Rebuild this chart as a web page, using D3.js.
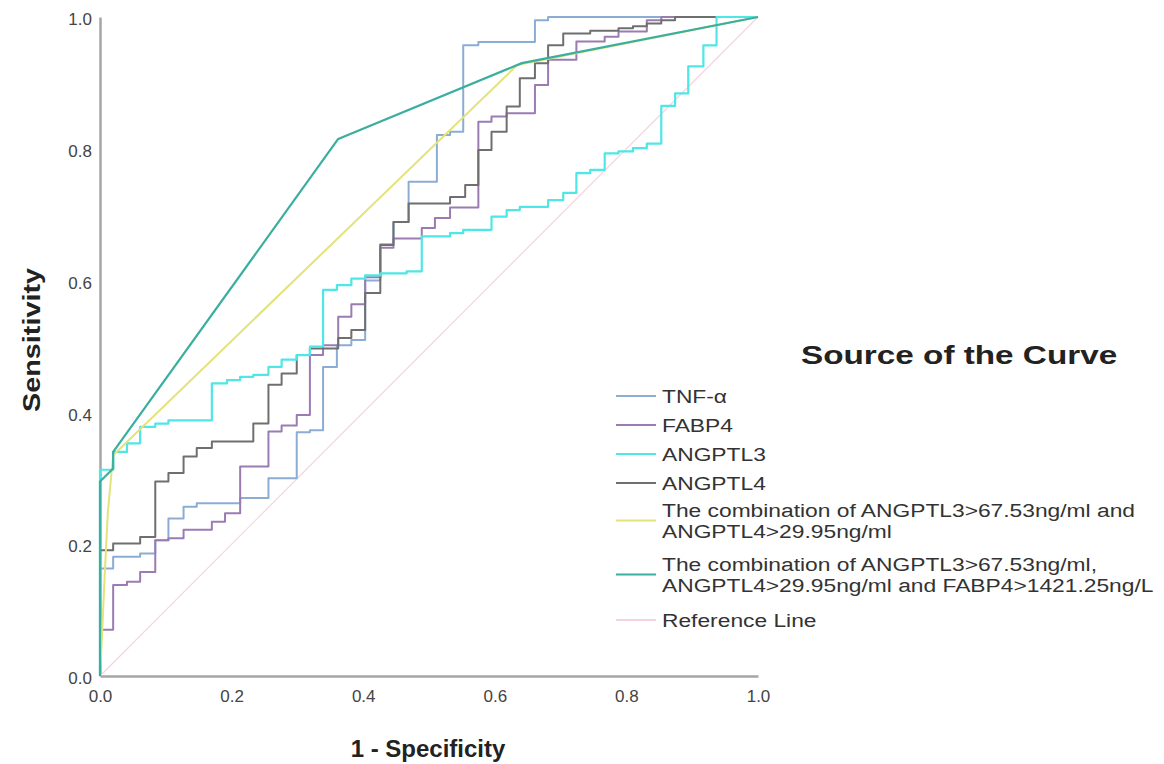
<!DOCTYPE html>
<html>
<head>
<meta charset="utf-8">
<script src="https://cdn.jsdelivr.net/npm/d3@7"></script>
<style>
  body { margin: 0; background: #fff; }
  svg { font-family: Arial, "Liberation Sans", sans-serif; }
</style>
</head>
<body>
<svg id="chart" width="1164" height="764"></svg>
<script>
// ROC curves, step points are [1 - specificity, sensitivity]
const tnfAlpha = [[0, 0], [0, 0.163], [0.020, 0.181], [0.061, 0.186], [0.084, 0.206], [0.104, 0.239],
  [0.127, 0.257], [0.147, 0.262], [0.213, 0.270], [0.256, 0.280], [0.256, 0.300], [0.299, 0.370],
  [0.319, 0.373], [0.339, 0.469], [0.360, 0.502], [0.382, 0.510], [0.403, 0.600], [0.426, 0.655],
  [0.446, 0.689], [0.469, 0.750], [0.512, 0.821], [0.532, 0.826], [0.552, 0.957], [0.575, 0.962],
  [0.661, 0.995], [0.681, 1.0], [1, 1]]

const fabp4 = [[0, 0], [0, 0.070], [0.020, 0.138], [0.041, 0.143], [0.061, 0.158], [0.084, 0.206],
  [0.104, 0.209], [0.127, 0.222], [0.170, 0.234], [0.190, 0.247], [0.213, 0.318], [0.256, 0.371],
  [0.276, 0.380], [0.299, 0.396], [0.319, 0.487], [0.339, 0.502], [0.362, 0.545], [0.382, 0.564],
  [0.403, 0.605], [0.426, 0.650], [0.446, 0.664], [0.489, 0.680], [0.509, 0.695], [0.532, 0.711],
  [0.575, 0.841], [0.595, 0.849], [0.618, 0.854], [0.661, 0.897], [0.681, 0.935], [0.724, 0.963],
  [0.767, 0.970], [0.788, 0.978], [0.831, 0.995], [0.853, 1.0], [1, 1]]

const angptl3 = [[0, 0], [0, 0.313], [0.010, 0.313], [0.020, 0.340], [0.041, 0.353], [0.061, 0.378],
  [0.084, 0.383], [0.104, 0.388], [0.170, 0.444], [0.193, 0.449], [0.213, 0.454], [0.233, 0.457],
  [0.256, 0.469], [0.276, 0.480], [0.299, 0.487], [0.319, 0.500], [0.339, 0.586], [0.360, 0.593],
  [0.382, 0.603], [0.403, 0.608], [0.426, 0.611], [0.466, 0.614], [0.489, 0.667], [0.532, 0.672],
  [0.552, 0.677], [0.595, 0.697], [0.618, 0.707], [0.638, 0.712], [0.681, 0.722], [0.704, 0.733],
  [0.724, 0.763], [0.745, 0.768], [0.767, 0.793], [0.788, 0.796], [0.810, 0.801], [0.831, 0.808],
  [0.853, 0.865], [0.874, 0.884], [0.894, 0.925], [0.917, 0.957], [0.937, 1.0], [1, 1]]

const angptl4 = [[0, 0], [0, 0.191], [0.020, 0.201], [0.061, 0.211], [0.084, 0.295], [0.104, 0.308],
  [0.127, 0.333], [0.147, 0.346], [0.170, 0.356], [0.233, 0.383], [0.256, 0.442], [0.276, 0.459],
  [0.299, 0.487], [0.319, 0.497], [0.362, 0.513], [0.382, 0.525], [0.403, 0.581], [0.426, 0.654],
  [0.446, 0.689], [0.469, 0.717], [0.532, 0.727], [0.555, 0.745], [0.575, 0.798], [0.595, 0.826],
  [0.618, 0.864], [0.638, 0.907], [0.661, 0.930], [0.681, 0.957], [0.704, 0.975], [0.745, 0.979],
  [0.788, 0.983], [0.810, 0.986], [0.831, 0.990], [0.853, 0.995], [0.874, 1.0], [1, 1]]

// combinations are plotted with straight segments
const combo1 = [[0, 0], [0.003, 0.06], [0.007, 0.15], [0.012, 0.25], [0.020, 0.335], [0.634, 0.927], [1, 1]]
const combo2 = [[0, 0], [0, 0.295], [0.020, 0.315], [0.020, 0.340], [0.362, 0.815], [0.641, 0.930], [1, 1]]
const refLine = [[0, 0], [1, 1]]

const tickValues = [0, 0.2, 0.4, 0.6, 0.8, 1.0]

const legendNames = [
  ['TNF-α'],
  ['FABP4'],
  ['ANGPTL3'],
  ['ANGPTL4'],
  ['The combination of ANGPTL3>67.53ng/ml and', 'ANGPTL4>29.95ng/ml'],
  ['The combination of ANGPTL3>67.53ng/ml,', 'ANGPTL4>29.95ng/ml and FABP4>1421.25ng/L'],
  ['Reference Line']
]

const series = [
  { data: tnfAlpha, color: '#8badd3', step: true, width: 2 },
  { data: fabp4, color: '#9a7cb2', step: true, width: 2 },
  { data: angptl3, color: '#4fe6e6', step: true, width: 2.2 },
  { data: angptl4, color: '#6f6f6f', step: true, width: 2 },
  { data: combo1, color: '#e3e37a', step: false, width: 2 },
  { data: combo2, color: '#3aae9f', step: false, width: 2.2 },
  { data: refLine, color: '#f5d3dc', step: false, width: 1.2 }
]

const svg = d3.select('#chart')
const x = d3.scaleLinear().domain([0, 1]).range([100, 758])
const y = d3.scaleLinear().domain([0, 1]).range([676, 17])

// axes: plain gray lines, no tick marks
const xAxis = svg.append('g').attr('transform', 'translate(0,676)')
  .call(d3.axisBottom(x).tickValues(tickValues).tickFormat(d3.format('.1f')).tickSize(0).tickPadding(14))
const yAxis = svg.append('g').attr('transform', 'translate(100,0)')
  .call(d3.axisLeft(y).tickValues(tickValues).tickFormat(d3.format('.1f')).tickSize(0).tickPadding(8))

for (const ax of [xAxis, yAxis]) {
  ax.select('.domain').attr('stroke', '#a6a6a6').attr('stroke-width', 2.5)
  ax.selectAll('text').attr('font-size', 17).attr('fill', '#444')
    .attr('font-family', 'Arial, "Liberation Sans", sans-serif')
}
yAxis.selectAll('text').attr('dy', '0.45em')

// curves, reference line underneath
const lineStep = d3.line().x(d => x(d[0])).y(d => y(d[1])).curve(d3.curveStepAfter)
const lineStraight = d3.line().x(d => x(d[0])).y(d => y(d[1]))

const drawOrder = [6, 0, 1, 3, 2, 4, 5]
svg.append('g').selectAll('path')
  .data(drawOrder.map(i => series[i]))
  .join('path')
  .attr('d', s => (s.step ? lineStep : lineStraight)(s.data))
  .attr('fill', 'none')
  .attr('stroke', s => s.color)
  .attr('stroke-width', s => s.width)
  .attr('stroke-linejoin', 'round')

// axis titles
svg.append('text')
  .attr('x', 428).attr('y', 757)
  .attr('text-anchor', 'middle')
  .attr('font-size', 24).attr('font-weight', 'bold').attr('fill', '#222')
  .text('1 - Specificity')

svg.append('text')
  .attr('transform', 'translate(40,340) rotate(-90) scale(1.2,1)')
  .attr('text-anchor', 'middle')
  .attr('font-size', 24).attr('font-weight', 'bold').attr('fill', '#222')
  .text('Sensitivity')

// legend
const legend = svg.append('g')
legend.append('text')
  .attr('transform', 'translate(801,364) scale(1.28,1)')
  .attr('font-size', 26).attr('font-weight', 'bold').attr('fill', '#222')
  .text('Source of the Curve')

const rowY = [396, 425, 454, 483, 510, 564, 620]
const lineGap = 21

const rows = legend.selectAll('g.row')
  .data(series.map((s, i) => ({ s, names: legendNames[i], y: rowY[i] })))
  .join('g')
  .attr('class', 'row')

rows.append('line')
  .attr('x1', 616).attr('x2', 656)
  .attr('y1', d => d.y + (d.names.length - 1) * lineGap / 2)
  .attr('y2', d => d.y + (d.names.length - 1) * lineGap / 2)
  .attr('stroke', d => d.s.color)
  .attr('stroke-width', 2)

// each legend line is its own text element
rows.selectAll('text')
  .data(d => d.names.map((n, j) => ({ n, y: d.y + j * lineGap })))
  .join('text')
  .attr('transform', t => `translate(662,${t.y}) scale(1.2,1)`)
  .attr('font-size', 19)
  .attr('fill', '#333')
  .attr('dy', '0.35em')
  .text(t => t.n)
</script>
</body>
</html>
